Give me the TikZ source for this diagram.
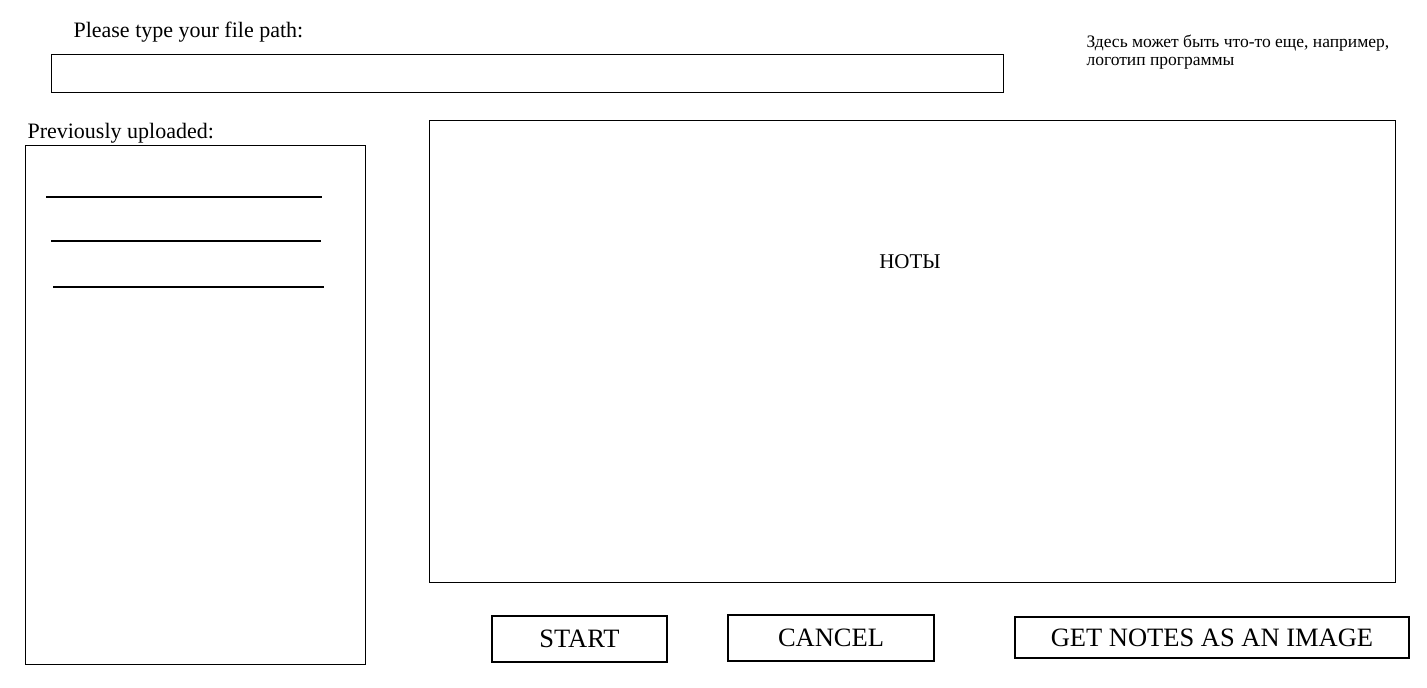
\documentclass[tikz,border=0pt]{standalone}
\usepackage{fontspec}
\setmainfont{Liberation Serif}
\usetikzlibrary{positioning}
\newcommand{\fsz}[1]{\fontsize{#1}{#1}\selectfont}

\begin{document}
\begin{tikzpicture}[x=1pt, y=-1pt, line width=1.1pt,
	frame/.style={draw, inner sep=0pt, anchor=north west},
	button/.style={draw, inner sep=0pt, font=\fsz{26.5}},
	caption/.style={inner sep=0pt, anchor=base west, font=\fsz{22}}]
	\useasboundingbox (0, 0) rectangle (1427, 688);
	% top row
	\node [caption] (pathlabel) at (73, 37) {Please type your file path:};
	\node [frame, minimum width=952pt, minimum height=38pt] (pathbox) at (51, 54) {};
	\node [inner sep=0pt, anchor=base west, align=left, font=\fontsize{17.5}{18}\selectfont] (logo) at (1086, 65) {Здесь может быть что-то еще, например,\\логотип программы};
	% history panel
	\node [caption] (histlabel) at (27, 138) {Previously uploaded:};
	\node [frame, minimum width=340pt, minimum height=519pt] (histbox) at (25, 145) {};
	\draw (46, 197) -- (322, 197);
	\draw (51, 241) -- (321, 241);
	\draw (53, 287) -- (324, 287);
	% notes area
	\node [frame, minimum width=966pt, minimum height=462pt] (notes) at (429, 120) {};
	\node [inner sep=0pt, anchor=base, font=\fsz{21}] (noteslabel) at (910, 268) {НОТЫ};
	% buttons
	\node [button, minimum width=175pt, minimum height=46pt] (start) at (579.5, 639) {START};
	\node [button, minimum width=206pt, minimum height=46pt] (cancel) at (831, 638) {CANCEL};
	\node [button, minimum width=394pt, minimum height=41pt] (export) at (1212, 637.5) {GET NOTES AS AN IMAGE};
\end{tikzpicture}
\end{document}
